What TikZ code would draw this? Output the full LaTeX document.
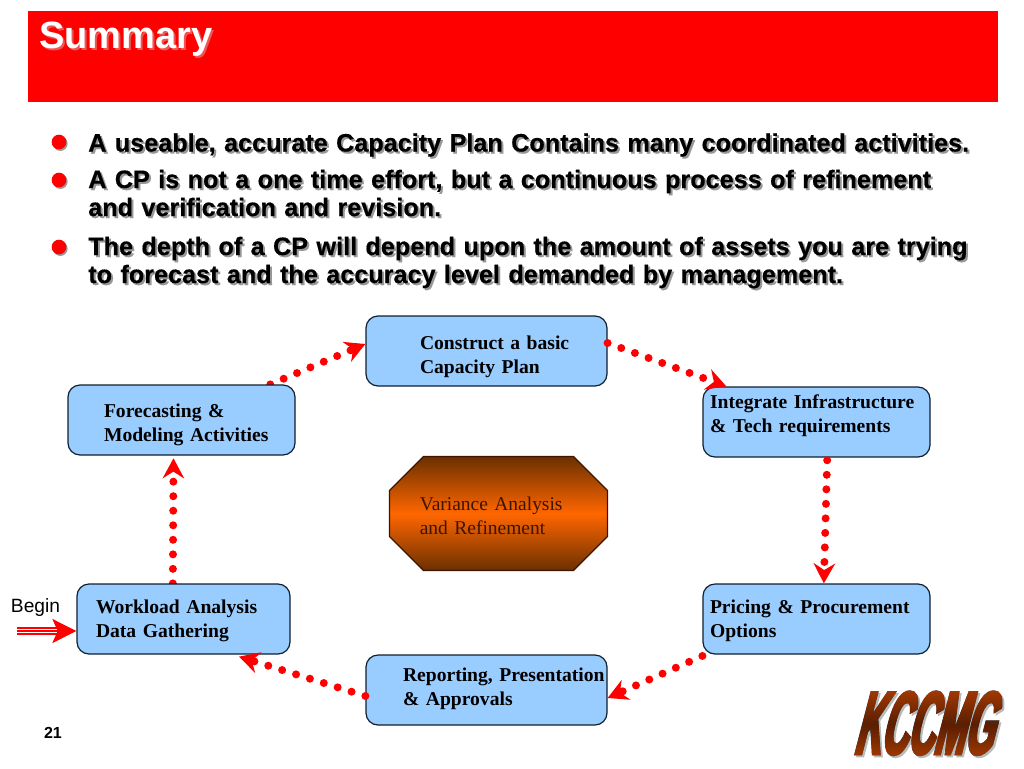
\documentclass[tikz,border=0pt]{standalone}
\usepackage{fontspec}
\setmainfont{Liberation Serif}
\newfontfamily\headfont{Liberation Sans}
\newfontfamily\bulletfont[FakeBold=0.4]{Liberation Sans Bold}
\newfontfamily\logofont[FakeSlant=0.26,FakeStretch=0.41,FakeBold=3]{Liberation Sans Bold}
\usetikzlibrary{arrows.meta, shadows, backgrounds}
\definecolor{boxblue}{HTML}{99CCFF}
\definecolor{boxline}{HTML}{10202F}
\definecolor{octdark}{HTML}{6B3000}
\definecolor{octmid}{HTML}{FF6600}
\definecolor{octtext}{HTML}{3C1400}
\definecolor{softgray}{HTML}{989898}
\definecolor{titleshade}{HTML}{EC5858}
\definecolor{logoedge}{HTML}{A63A00}
\definecolor{logomid}{HTML}{5A1E00}
\definecolor{logoshadow}{HTML}{B8BCB8}
\newcommand{\shadowed}[2][softgray]{\leavevmode\rlap{\hspace{1.5pt}\raisebox{-1.5pt}{\color{#1}#2}}#2}
\tikzstyle{leadin} = [execute at begin node = {\leftskip=#1\relax}]
\tikzstyle{lift} = [text height = 12pt, text depth = 12pt + 2*#1]
\tikzstyle{stepbox} = [
    rectangle,
    rounded corners = 9pt,
    minimum height = 52.5pt,
    inner sep = 0pt,
    align = left,
    font = \fontsize{14.7}{18}\selectfont\bfseries,
    draw = boxline,
    line width = 0.9pt,
    fill = boxblue
]
\tikzstyle{bullettext} = [
    anchor = base west,
    inner sep = 0pt,
    text width = 682pt,
    align = left,
    font = \fontsize{18.9}{21}\selectfont\bulletfont
]
\tikzstyle{bulletdot} = [
    circle,
    inner sep = 0pt,
    minimum size = 11pt,
    fill = red,
    drop shadow = {shadow xshift = 1pt, shadow yshift = -1.2pt, fill = black, opacity = 0.4}
]
\tikzstyle{dotarrow} = [
    red,
    line width = 6pt,
    line cap = round,
    dash pattern = on 0pt off 10.9pt,
    -{Stealth[length = 15pt, width = 16pt, inset = 5pt]}
]
\begin{document}
\begin{tikzpicture}[x = 0.75pt, y = -0.75pt, node distance = 165pt]
    \useasboundingbox (0,0) rectangle (1024,768);
    \begin{pgfonlayer}{background}
        \fill [white] (0,0) rectangle (1024,768);
    \end{pgfonlayer}

    \node (bar) [
        rectangle, fill = red, inner sep = 0pt,
        minimum width = 727.5pt, minimum height = 68.25pt
    ] at (513,56.5) {};

    \node (summary) [
        anchor = base west, inner sep = 0pt, text = white,
        font = \fontsize{28.5}{30}\selectfont\headfont\bfseries
    ] at (39,48) {\shadowed[titleshade]{Summary}};

    \node (dot one) [bulletdot] at (59,142) {};
    \node (dot two) [bulletdot] at (59,180) {};
    \node (dot three) [bulletdot] at (59,247) {};

    \node (useable) [bullettext] at (88,151.5)
        {\shadowed{A useable, accurate Capacity Plan Contains many coordinated activities.}};
    \node (continuous) [bullettext] at (88,188)
        {\shadowed{A CP is not a one time effort, but a continuous process of refinement}\\
         \shadowed{and verification and revision.}};
    \node (depth) [bullettext] at (88,255)
        {\shadowed{The depth of a CP will depend upon the amount of assets you are trying}\\
         \shadowed{to forecast and the accuracy level demanded by management.}};

    \node (construct) [stepbox, minimum width = 180.75pt, text width = 180.75pt,
        leadin = 40.5pt, lift = 1.5pt] at (486.5,351)
        {Construct a basic\\Capacity Plan};

    \node (integrate) [stepbox, right of = construct, xshift = 82.5pt, yshift = -53.25pt,
        minimum width = 170.25pt, text width = 170.25pt,
        leadin = 5.25pt, lift = 10.5pt]
        {Integrate Infrastructure\\\& Tech requirements};

    \node (pricing) [stepbox, below of = integrate, yshift = 17.25pt,
        minimum width = 170.25pt, text width = 170.25pt,
        leadin = 5.25pt, lift = 4.5pt]
        {Pricing \& Procurement\\Options};

    \node (reporting) [stepbox, left of = pricing, xshift = -82.5pt, yshift = -53.25pt,
        minimum width = 180.75pt, text width = 180.75pt,
        leadin = 27.75pt, lift = 6.75pt]
        {Reporting, Presentation\\\& Approvals};

    \node (workload) [stepbox, left of = reporting, xshift = -62.25pt, yshift = 53.25pt,
        minimum width = 159.75pt, text width = 159.75pt,
        leadin = 14.25pt, lift = 4.5pt]
        {Workload Analysis\\Data Gathering};

    \node (forecasting) [stepbox, above of = workload, xshift = -1.5pt, yshift = -15.75pt,
        minimum width = 170.25pt, text width = 170.25pt,
        leadin = 27pt, lift = 2.25pt]
        {Forecasting \&\\Modeling Activities};

    \coordinate (octagon nw) at (389.5,456.5);
    \coordinate (octagon se) at (607.5,570.5);

    \shade [
        draw = octtext, line width = 0.9pt,
        top color = octdark, bottom color = octdark, middle color = octmid
    ]
        ([xshift = 25.5pt]octagon nw) -- ([xshift = -25.5pt]octagon nw -| octagon se)
        -- ([yshift = -25.5pt]octagon nw -| octagon se) -- ([yshift = 25.5pt]octagon se)
        -- ([xshift = -25.5pt]octagon se) -- ([xshift = 25.5pt]octagon se -| octagon nw)
        -- ([yshift = 25.5pt]octagon se -| octagon nw) -- ([yshift = -25.5pt]octagon nw)
        -- cycle;

    \node (variance) [
        below of = construct, xshift = 9pt, yshift = 43.125pt,
        text width = 163pt,
        inner sep = 0pt,
        align = left,
        leadin = 22.5pt, lift = 2pt,
        font = \fontsize{14.6}{18}\selectfont,
        text = octtext
    ]
        {Variance Analysis\\and Refinement};

    \begin{pgfonlayer}{background}
        \draw [dotarrow] ([xshift = -8pt]workload.north) -- ([xshift = -6pt, yshift = -2pt]forecasting.south);
        \draw [dotarrow] ([xshift = -19pt]forecasting.north east) -- ([yshift = 5.25pt]construct.west);
    \end{pgfonlayer}
    \draw [dotarrow] ([yshift = 6pt]construct.east) -- ([xshift = 18pt]integrate.north west);
    \draw [dotarrow] ([xshift = 8pt, yshift = -2pt]integrate.south) -- ([xshift = 5.5pt]pricing.north);
    \draw [dotarrow] ([yshift = -1pt]pricing.south west) -- ([yshift = -6pt]reporting.east);
    \draw [dotarrow] ([yshift = -4.5pt]reporting.west) -- ([xshift = 122pt, yshift = -1.5pt]workload.south west);

    \node (begin label) [
        inner sep = 0pt, font = \fontsize{14.4}{16}\selectfont\headfont
    ] at (35.5,608) {Begin};

    \coordinate (begin start) at (17,631);
    \coordinate (begin stop) at (60,631);
    \foreach \off in {-2.4pt, 2.4pt}
        \draw [red, line width = 1.5pt] ([yshift = \off]begin start) -- ([yshift = \off]begin stop);
    \draw [
        red, line width = 1.5pt,
        -{Stealth[length = 18pt, width = 18pt, inset = 4pt]}
    ] (begin start) -- ([yshift = -9pt]workload.west);

    \node (page number) [
        inner sep = 0pt, font = \fontsize{12}{14}\selectfont\headfont\bfseries
    ] at (53,733) {21};

    \node (logo) [
        anchor = base west, inner sep = 0pt,
        font = \fontsize{67}{70}\selectfont\logofont
    ] at (853,754) {\shadowed[logoshadow]{KCCMG}};

    \shade [
        blend mode = lighten,
        top color = logoedge, bottom color = logoedge, middle color = logomid
    ] (846,688) rectangle (1018,760);
\end{tikzpicture}
\end{document}
